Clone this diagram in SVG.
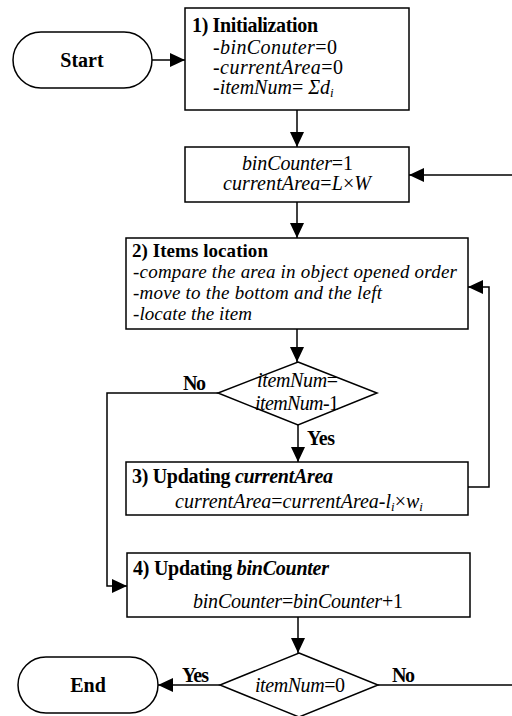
<svg xmlns="http://www.w3.org/2000/svg" width="512" height="716" viewBox="0 0 512 716">
<defs>
<style>
.n{fill:#fff;stroke:#000;stroke-width:1.5}
.c{fill:none;stroke:#000;stroke-width:1.5}
text{font-family:"Liberation Serif","Times New Roman",serif;font-size:20px;fill:#000}
.b{font-weight:bold}
.i{font-style:italic}
.u{font-style:normal}
.m{text-anchor:middle}
.s{font-size:13px}
.t{font-size:19px}
</style>
<marker id="a" markerUnits="userSpaceOnUse" markerWidth="16" markerHeight="14" refX="15" refY="7" orient="auto">
<path d="M0,0 L15,7 L0,14 Z" fill="#000"/>
</marker>
</defs>
<rect width="512" height="716" fill="#fff"/>
<g id="connectors">
<line class="c" x1="152" y1="60" x2="185" y2="60" marker-end="url(#a)"/>
<line class="c" x1="297" y1="110" x2="297" y2="147" marker-end="url(#a)"/>
<line class="c" x1="512" y1="175" x2="409" y2="175" marker-end="url(#a)"/>
<line class="c" x1="297" y1="202" x2="297" y2="238" marker-end="url(#a)"/>
<line class="c" x1="297" y1="329" x2="297" y2="362" marker-end="url(#a)"/>
<line class="c" x1="298" y1="425" x2="298" y2="462" marker-end="url(#a)"/>
<polyline class="c" points="468,487 489,487 489,287 468,287" marker-end="url(#a)"/>
<polyline class="c" points="218,393 107,393 107,586 127,586" marker-end="url(#a)"/>
<line class="c" x1="298" y1="617" x2="298" y2="653" marker-end="url(#a)"/>
<line class="c" x1="220" y1="685" x2="158" y2="685" marker-end="url(#a)"/>
<line class="c" x1="378" y1="685" x2="512" y2="685"/>
<text class="b" x="183" y="390" textLength="23">No</text>
<text class="b" x="307" y="445" textLength="28">Yes</text>
<text class="b" x="182" y="682" textLength="27">Yes</text>
<text class="b" x="392" y="682" textLength="23">No</text>
</g>
<g id="start">
<rect class="n" x="13" y="32" width="139" height="56" rx="28"/>
<text class="b m" x="82" y="67">Start</text>
</g>
<g id="init">
<rect class="n" x="185" y="8" width="224" height="102"/>
<text class="b" x="192" y="32" textLength="126">1) Initialization</text>
<text class="i" x="213" y="54" textLength="124">-binConuter<tspan class="u">=0</tspan></text>
<text class="i" x="213" y="74" textLength="130">-currentArea<tspan class="u">=0</tspan></text>
<text class="i" x="213" y="94">-itemNum<tspan class="u">= </tspan>Σd<tspan class="s" dy="3">i</tspan></text>
</g>
<g id="setbin">
<rect class="n" x="185" y="147" width="224" height="55"/>
<text class="i m" x="297.5" y="170" textLength="111">binCounter<tspan class="u">=1</tspan></text>
<text class="i m" x="297" y="190" textLength="148">currentArea<tspan class="u">=</tspan>L<tspan class="u">×</tspan>W</text>
</g>
<g id="locate">
<rect class="n" x="126" y="238" width="342" height="91"/>
<text class="b t" x="132" y="257" textLength="136">2) Items location</text>
<text class="i t" x="133" y="278" textLength="324">-compare the area in object opened order</text>
<text class="i t" x="133" y="299" textLength="249">-move to the bottom and the left</text>
<text class="i t" x="133" y="320" textLength="119">-locate the item</text>
</g>
<g id="decide1">
<polygon class="n" points="298,362 377,393 298,425 218,393"/>
<text class="i m" x="297.5" y="387" textLength="81">itemNum<tspan class="u">=</tspan></text>
<text class="i m" x="297" y="410" textLength="84">itemNum<tspan class="u">-1</tspan></text>
</g>
<g id="updarea">
<rect class="n" x="126" y="462" width="342" height="53"/>
<text class="b" x="132" y="483" textLength="201">3) Updating <tspan class="i">currentArea</tspan></text>
<text class="i m" x="299" y="508">currentArea<tspan class="u">=</tspan>currentArea-l<tspan class="s" dy="3">i</tspan><tspan class="u" dy="-3">×</tspan>w<tspan class="s" dy="3">i</tspan></text>
</g>
<g id="updbin">
<rect class="n" x="127" y="553" width="343" height="64"/>
<text class="b" x="133" y="575" textLength="196">4) Updating <tspan class="i">binCounter</tspan></text>
<text class="i m" x="298" y="608" textLength="210">binCounter<tspan class="u">=</tspan>binCounter<tspan class="u">+1</tspan></text>
</g>
<g id="decide2">
<polygon class="n" points="299,653 378,685 299,717 220,685"/>
<text class="i m" x="300" y="692" textLength="90">itemNum<tspan class="u">=0</tspan></text>
</g>
<g id="end">
<rect class="n" x="18" y="657" width="140" height="56" rx="28"/>
<text class="b m" x="88" y="692">End</text>
</g>
</svg>
